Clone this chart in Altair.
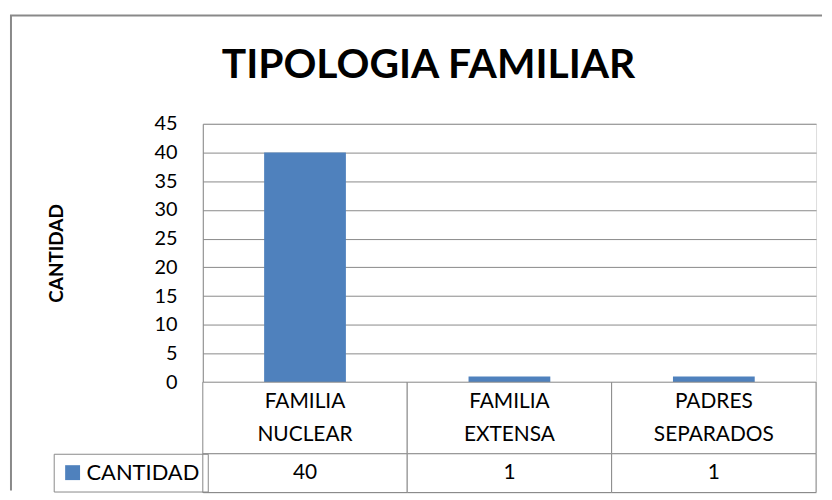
import altair as alt
import pandas as pd

categorias = ["FAMILIA NUCLEAR", "FAMILIA EXTENSA", "PADRES SEPARADOS"]
cantidades = [40, 1, 1]
serie = "CANTIDAD"
ticks_y = [0, 5, 10, 15, 20, 25, 30, 35, 40, 45]
titulo = "TIPOLOGIA FAMILIAR"

df = pd.DataFrame({"categoria": categorias, "cantidad": cantidades, "serie": [serie] * len(categorias)})
uno = pd.DataFrame({"k": [0]})

GRAY = "#898989"
BLUE = "#4F81BD"
FONT = "Lato"
W = 617

x_bar = alt.X("categoria:N", sort=categorias, axis=None,
              scale=alt.Scale(paddingInner=0.6, paddingOuter=0.3))

bars = alt.Chart(df).mark_bar().encode(
    x=x_bar,
    y=alt.Y("cantidad:Q", scale=alt.Scale(domain=[0, 45], nice=False),
            axis=alt.Axis(values=ticks_y, grid=True, gridColor=GRAY, gridWidth=1,
                          domainColor=GRAY, domainWidth=1, ticks=False,
                          labelFont=FONT, labelFontSize=20, labelColor="black", labelPadding=26,
                          title="CANTIDAD", titleFont=FONT, titleFontSize=19, titleFontWeight="bold",
                          titleColor="black", titleAngle=270, titleX=-147, titleY=130,
                          titleAlign="center", titleBaseline="middle")),
    color=alt.Color("serie:N", scale=alt.Scale(range=[BLUE]),
                    legend=alt.Legend(orient="none", legendX=-150, legendY=332, title=None,
                                      symbolType="square", symbolSize=225, symbolStrokeWidth=0,
                                      labelFont=FONT, labelFontSize=22, labelColor="black",
                                      labelOffset=3, padding=8, strokeColor=GRAY)),
).properties(
    width=W, height=260,
    title=alt.TitleParams(titulo, font=FONT, fontSize=41, fontWeight="bold", color="black",
                          anchor="start", frame="group", dx=19, dy=39, offset=34,
                          baseline="alphabetic"),
)

x_tab = alt.X("categoria:N", sort=categorias, axis=None,
              scale=alt.Scale(paddingInner=0, paddingOuter=0))

base2 = alt.Chart(df).encode(x=x_tab)
fila_cat = alt.layer(
    base2.mark_rect(fill="white", stroke=GRAY, strokeWidth=1),
    base2.mark_text(font=FONT, fontSize=21, lineBreak=" ", lineHeight=33, dy=-16,
                    color="black").encode(text="categoria:N"),
).properties(width=W, height=72)

marco_izq = alt.Chart(uno).mark_rule(color=GRAY, strokeWidth=2).encode(
    x=alt.value(-193), y=alt.value(-441), y2=alt.value(37))
marco_sup = alt.Chart(uno).mark_rule(color=GRAY, strokeWidth=2).encode(
    x=alt.value(-194), x2=alt.value(623), y=alt.value(-441))

base3 = alt.Chart(df).encode(x=x_tab)
fila_val = alt.layer(
    base3.mark_rect(fill="white", stroke=GRAY, strokeWidth=1),
    base3.mark_text(font=FONT, fontSize=21, color="black").encode(text="cantidad:Q"),
    marco_izq, marco_sup,
).properties(width=W, height=39)

chart = alt.vconcat(bars, fila_cat, fila_val, spacing=0, bounds="flush").properties(
    padding={"left": 0, "top": 4, "right": 0, "bottom": 0}
).configure_view(stroke=None).configure(background="white")

chart.save("out.html", embed_options={"renderer": "svg", "actions": False})
